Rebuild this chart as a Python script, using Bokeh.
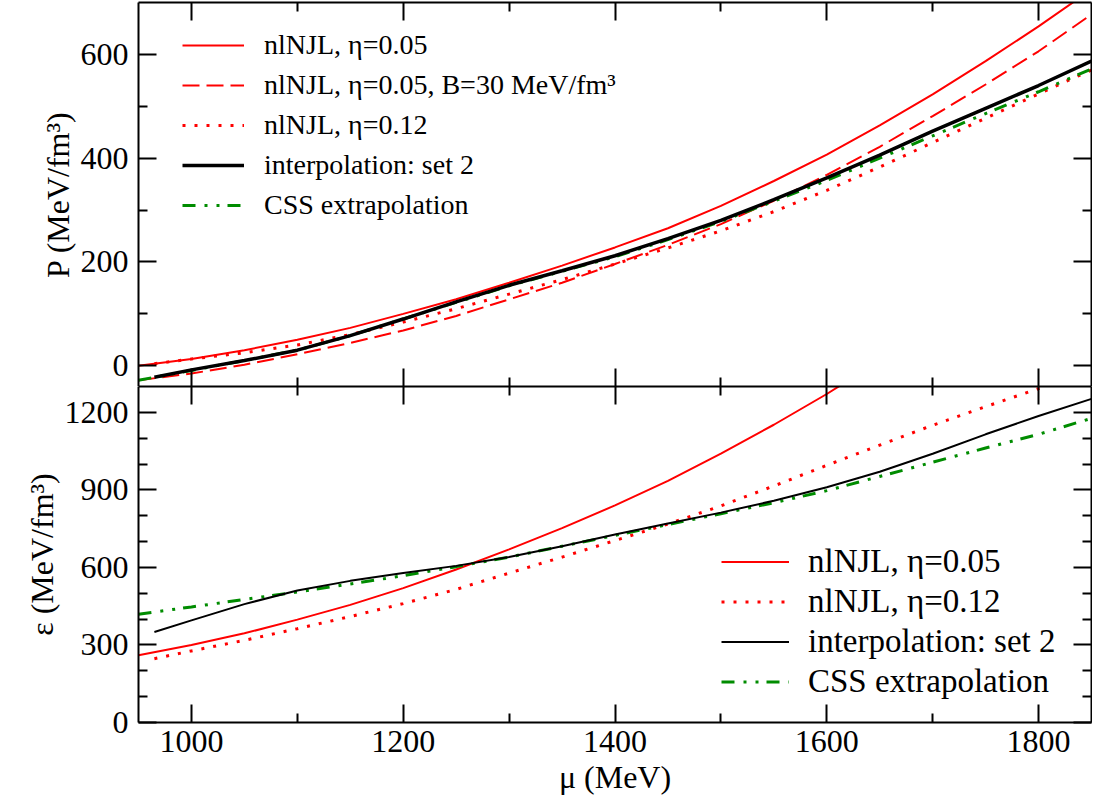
from bokeh.plotting import figure
from bokeh.models import Range1d, LinearAxis, FixedTicker, Legend, LegendItem, Grid
from bokeh.layouts import column
from bokeh.embed import file_html
from bokeh.resources import INLINE

FONT = "Liberation Serif"
RED = "#ff0000"
GREEN = "#008c00"

# chemical potential grids (MeV)
mu_a = [950, 1000, 1050, 1100, 1150, 1200, 1250, 1300, 1350, 1400, 1450,
        1500, 1550, 1600, 1650, 1700, 1750, 1800, 1850]
mu_b = [965, 1000, 1050, 1100, 1150, 1200, 1250, 1300, 1350, 1400, 1450,
        1500, 1550, 1600, 1650, 1700, 1750, 1800, 1850]
mu_c = [950, 1000, 1050, 1100, 1150, 1200, 1250, 1300, 1350, 1400, 1450,
        1500, 1550, 1600, 1650]

# pressure P (MeV/fm^3)
p_eta005 = [0, 13, 30, 50, 73, 100, 128, 160, 193, 228, 265, 308, 356, 407,
            463, 523, 587, 654, 725]
p_eta005_b30 = [-28, -15, 2, 22, 44, 68, 96, 128, 160, 196, 233, 273, 318,
                368, 422, 481, 542, 606, 677]
p_eta012 = [4, 13, 25, 40, 60, 84, 110, 138, 166, 196, 227, 260, 297, 338,
            383, 430, 477, 524, 570]
p_interp = [-22, -8, 10, 30, 58, 90, 123, 155, 183, 212, 245, 280, 320, 362,
            406, 452, 496, 540, 587]
p_css = [-28, -9, 10, 30, 58, 90, 122, 154, 182, 210, 243, 278, 317, 357,
         400, 443, 486, 528, 572]

# energy density eps (MeV/fm^3)
e_eta005 = [260, 300, 345, 398, 455, 520, 592, 670, 752, 840, 935, 1040,
            1152, 1271, 1400]
e_eta012 = [247, 277, 318, 363, 410, 460, 515, 578, 640, 704, 768, 838, 915,
            995, 1073, 1150, 1222, 1292, 1360]
e_interp = [350, 395, 458, 511, 548, 578, 606, 640, 682, 727, 770, 812, 858,
            910, 970, 1040, 1115, 1186, 1252]
e_css = [419, 447, 476, 505, 536, 568, 603, 640, 682, 724, 766, 808, 850,
         897, 952, 1007, 1062, 1115, 1177]

x_ticks = [1000, 1200, 1400, 1600, 1800]
x_minor = [1100, 1300, 1500, 1700]
p_ticks = [0, 200, 400, 600]
p_minor = [100, 300, 500]
e_ticks = [0, 300, 600, 900, 1200]
e_minor = [100, 200, 400, 500, 700, 800, 1000, 1100]


def mk_axis(ticks, minor, show, label=None, std=10, lstd=2):
    ax = LinearAxis(ticker=FixedTicker(ticks=ticks, minor_ticks=minor))
    ax.axis_line_color = "black"
    ax.axis_line_width = 2
    ax.major_tick_in = 18
    ax.major_tick_out = 0
    ax.minor_tick_in = 9
    ax.minor_tick_out = 0
    ax.major_tick_line_width = 2
    ax.minor_tick_line_width = 2
    ax.major_tick_line_color = "black"
    ax.minor_tick_line_color = "black"
    if show:
        ax.major_label_text_font = FONT
        ax.major_label_text_font_size = "32px"
        ax.major_label_text_color = "black"
        ax.major_label_standoff = std
    else:
        ax.major_label_text_font_size = "0px"
        ax.major_label_text_color = None
        ax.major_label_standoff = 0
    if label:
        ax.axis_label = label
        ax.axis_label_text_font = FONT
        ax.axis_label_text_font_size = "32px"
        ax.axis_label_text_font_style = "normal"
        ax.axis_label_text_color = "black"
        ax.axis_label_standoff = lstd
    return ax


def strip_grid(fig):
    fig.center = [c for c in fig.center if not isinstance(c, Grid)]


x_range = Range1d(950, 1850)

# ---------------- top panel ----------------
top = figure(frame_width=953, frame_height=384, x_range=x_range,
             y_range=Range1d(-40, 700), output_backend="svg",
             toolbar_location=None, x_axis_location=None, y_axis_location=None,
             min_border_left=138, min_border_right=1, min_border_top=2,
             min_border_bottom=0)
strip_grid(top)
top.outline_line_color = None
top.background_fill_color = "white"
top.border_fill_color = "white"
top.add_layout(mk_axis(p_ticks, p_minor, True, "P (MeV/fm³)", 10, 2), "left")
top.add_layout(mk_axis(p_ticks, p_minor, False), "right")
top.add_layout(mk_axis(x_ticks, x_minor, False), "below")
top.add_layout(mk_axis(x_ticks, x_minor, False), "above")

t1 = top.line(mu_a, p_eta005, line_color=RED, line_width=2)
t2 = top.line(mu_a, p_eta005_b30, line_color=RED, line_width=2, line_dash="17 7")
t3 = top.line(mu_b, p_eta012, line_color=RED, line_width=3, line_dash="3 9")
t5 = top.line(mu_a, p_css, line_color=GREEN, line_width=3, line_dash="13 9 3 9 3 8")
t4 = top.line(mu_b, p_interp, line_color="black", line_width=3.5)

leg_top = Legend(items=[
    LegendItem(label="nlNJL, η=0.05", renderers=[t1]),
    LegendItem(label="nlNJL, η=0.05, B=30 MeV/fm³", renderers=[t2]),
    LegendItem(label="nlNJL, η=0.12", renderers=[t3]),
    LegendItem(label="interpolation: set 2", renderers=[t4]),
    LegendItem(label="CSS extrapolation", renderers=[t5]),
], location=(44, 165))
leg_top.label_text_font = FONT
leg_top.label_text_font_size = "28px"
leg_top.label_text_color = "black"
leg_top.glyph_width = 62
leg_top.glyph_height = 32
leg_top.label_height = 32
leg_top.label_standoff = 20
leg_top.spacing = 8
leg_top.padding = 0
leg_top.margin = 0
leg_top.border_line_color = None
leg_top.background_fill_alpha = 0
top.add_layout(leg_top)

# ---------------- bottom panel ----------------
bot = figure(frame_width=953, frame_height=336, x_range=x_range,
             y_range=Range1d(0, 1300), output_backend="svg",
             toolbar_location=None, x_axis_location=None, y_axis_location=None,
             min_border_left=138, min_border_right=1, min_border_top=0,
             min_border_bottom=72)
strip_grid(bot)
bot.outline_line_color = None
bot.background_fill_color = "white"
bot.border_fill_color = "white"
bot.add_layout(mk_axis(e_ticks, e_minor, True, "ε (MeV/fm³)", 10, 2), "left")
bot.add_layout(mk_axis(e_ticks, e_minor, False), "right")
bot.add_layout(mk_axis(x_ticks, x_minor, True, "μ (MeV)", 8, 4), "below")
bot.add_layout(mk_axis(x_ticks, x_minor, False), "above")

b1 = bot.line(mu_c, e_eta005, line_color=RED, line_width=2)
b2 = bot.line(mu_b, e_eta012, line_color=RED, line_width=3, line_dash="3 9")
b4 = bot.line(mu_a, e_css, line_color=GREEN, line_width=3, line_dash="13 9 3 9 3 8")
b3 = bot.line(mu_b, e_interp, line_color="black", line_width=2)

leg_bot = Legend(items=[
    LegendItem(label="nlNJL, η=0.05", renderers=[b1]),
    LegendItem(label="nlNJL, η=0.12", renderers=[b2]),
    LegendItem(label="interpolation: set 2", renderers=[b3]),
    LegendItem(label="CSS extrapolation", renderers=[b4]),
], location=(583, 22))
leg_bot.label_text_font = FONT
leg_bot.label_text_font_size = "33px"
leg_bot.label_text_color = "black"
leg_bot.glyph_width = 68
leg_bot.glyph_height = 37
leg_bot.label_height = 37
leg_bot.label_standoff = 19
leg_bot.spacing = 3
leg_bot.padding = 0
leg_bot.margin = 0
leg_bot.border_line_color = None
leg_bot.background_fill_alpha = 0
bot.add_layout(leg_bot)

layout = column(top, bot, spacing=0)
open("out.html", "w").write(file_html(layout, INLINE))
